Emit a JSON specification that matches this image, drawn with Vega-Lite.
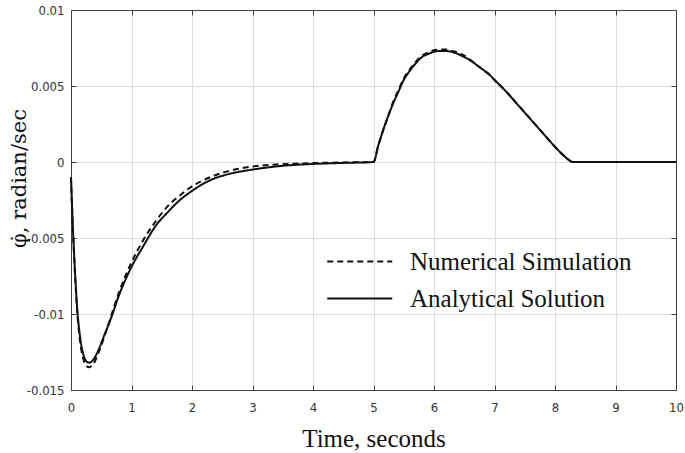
{
  "$schema": "https://vega.github.io/schema/vega-lite/v6.json",
  "width": 605,
  "height": 380,
  "autosize": {"type": "none"},
  "padding": {"left": 71, "top": 10, "right": 9, "bottom": 63},
  "background": "white",
  "config": {
    "view": {"stroke": "#404040", "strokeWidth": 1},
    "axis": {
      "labelFont": "Liberation Sans Narrow, Arial Narrow, DejaVu Sans Condensed, sans-serif",
      "labelFontSize": 13,
      "labelColor": "#333333",
      "titleFont": "Liberation Serif",
      "titleFontSize": 25,
      "titleFontWeight": "normal",
      "titleColor": "#111111",
      "domainColor": "#404040",
      "tickColor": "#404040",
      "gridColor": "#dddddd",
      "gridOpacity": 1
    }
  },
  "data": {
    "values": [
      {"t": 0, "v": -0.001, "series": "Analytical Solution"},
      {"t": 0.02, "v": -0.0032, "series": "Analytical Solution"},
      {"t": 0.04, "v": -0.0051, "series": "Analytical Solution"},
      {"t": 0.07, "v": -0.0075, "series": "Analytical Solution"},
      {"t": 0.1, "v": -0.0095, "series": "Analytical Solution"},
      {"t": 0.15, "v": -0.0115, "series": "Analytical Solution"},
      {"t": 0.2, "v": -0.0126, "series": "Analytical Solution"},
      {"t": 0.25, "v": -0.0131, "series": "Analytical Solution"},
      {"t": 0.3, "v": -0.0132, "series": "Analytical Solution"},
      {"t": 0.37, "v": -0.013, "series": "Analytical Solution"},
      {"t": 0.45, "v": -0.0124, "series": "Analytical Solution"},
      {"t": 0.55, "v": -0.0114, "series": "Analytical Solution"},
      {"t": 0.65, "v": -0.0104, "series": "Analytical Solution"},
      {"t": 0.8, "v": -0.0087, "series": "Analytical Solution"},
      {"t": 1.0, "v": -0.0069, "series": "Analytical Solution"},
      {"t": 1.2, "v": -0.0055, "series": "Analytical Solution"},
      {"t": 1.4, "v": -0.0042, "series": "Analytical Solution"},
      {"t": 1.6, "v": -0.0033, "series": "Analytical Solution"},
      {"t": 1.8, "v": -0.0025, "series": "Analytical Solution"},
      {"t": 2.0, "v": -0.0019, "series": "Analytical Solution"},
      {"t": 2.3, "v": -0.0012, "series": "Analytical Solution"},
      {"t": 2.6, "v": -0.0008, "series": "Analytical Solution"},
      {"t": 3.0, "v": -0.0005, "series": "Analytical Solution"},
      {"t": 3.5, "v": -0.00025, "series": "Analytical Solution"},
      {"t": 4.0, "v": -0.00013, "series": "Analytical Solution"},
      {"t": 4.5, "v": -0.00006, "series": "Analytical Solution"},
      {"t": 5.0, "v": 0, "series": "Analytical Solution"},
      {"t": 5.08, "v": 0.0011, "series": "Analytical Solution"},
      {"t": 5.16, "v": 0.0021, "series": "Analytical Solution"},
      {"t": 5.25, "v": 0.0031, "series": "Analytical Solution"},
      {"t": 5.33, "v": 0.0039, "series": "Analytical Solution"},
      {"t": 5.42, "v": 0.0047, "series": "Analytical Solution"},
      {"t": 5.5, "v": 0.0054, "series": "Analytical Solution"},
      {"t": 5.6, "v": 0.006, "series": "Analytical Solution"},
      {"t": 5.7, "v": 0.0065, "series": "Analytical Solution"},
      {"t": 5.8, "v": 0.0069, "series": "Analytical Solution"},
      {"t": 5.9, "v": 0.0071, "series": "Analytical Solution"},
      {"t": 6.0, "v": 0.00725, "series": "Analytical Solution"},
      {"t": 6.1, "v": 0.0073, "series": "Analytical Solution"},
      {"t": 6.2, "v": 0.0073, "series": "Analytical Solution"},
      {"t": 6.3, "v": 0.00724, "series": "Analytical Solution"},
      {"t": 6.4, "v": 0.0071, "series": "Analytical Solution"},
      {"t": 6.5, "v": 0.0069, "series": "Analytical Solution"},
      {"t": 6.6, "v": 0.0067, "series": "Analytical Solution"},
      {"t": 6.7, "v": 0.0064, "series": "Analytical Solution"},
      {"t": 6.8, "v": 0.0061, "series": "Analytical Solution"},
      {"t": 6.9, "v": 0.0058, "series": "Analytical Solution"},
      {"t": 7.0, "v": 0.0054, "series": "Analytical Solution"},
      {"t": 7.2, "v": 0.0046, "series": "Analytical Solution"},
      {"t": 7.4, "v": 0.0037, "series": "Analytical Solution"},
      {"t": 7.6, "v": 0.0028, "series": "Analytical Solution"},
      {"t": 7.8, "v": 0.0019, "series": "Analytical Solution"},
      {"t": 8.0, "v": 0.001, "series": "Analytical Solution"},
      {"t": 8.15, "v": 0.0004, "series": "Analytical Solution"},
      {"t": 8.3, "v": 0, "series": "Analytical Solution"},
      {"t": 9.0, "v": 0, "series": "Analytical Solution"},
      {"t": 10.0, "v": 0, "series": "Analytical Solution"},
      {"t": 0, "v": -0.001, "series": "Numerical Simulation"},
      {"t": 0.02, "v": -0.0033, "series": "Numerical Simulation"},
      {"t": 0.04, "v": -0.0052, "series": "Numerical Simulation"},
      {"t": 0.07, "v": -0.0077, "series": "Numerical Simulation"},
      {"t": 0.1, "v": -0.0097, "series": "Numerical Simulation"},
      {"t": 0.15, "v": -0.0118, "series": "Numerical Simulation"},
      {"t": 0.2, "v": -0.0129, "series": "Numerical Simulation"},
      {"t": 0.25, "v": -0.0134, "series": "Numerical Simulation"},
      {"t": 0.3, "v": -0.0135, "series": "Numerical Simulation"},
      {"t": 0.37, "v": -0.0133, "series": "Numerical Simulation"},
      {"t": 0.45, "v": -0.0126, "series": "Numerical Simulation"},
      {"t": 0.55, "v": -0.0115, "series": "Numerical Simulation"},
      {"t": 0.65, "v": -0.0103, "series": "Numerical Simulation"},
      {"t": 0.8, "v": -0.0085, "series": "Numerical Simulation"},
      {"t": 1.0, "v": -0.0066, "series": "Numerical Simulation"},
      {"t": 1.2, "v": -0.0051, "series": "Numerical Simulation"},
      {"t": 1.4, "v": -0.0039, "series": "Numerical Simulation"},
      {"t": 1.6, "v": -0.0029, "series": "Numerical Simulation"},
      {"t": 1.8, "v": -0.0022, "series": "Numerical Simulation"},
      {"t": 2.0, "v": -0.0016, "series": "Numerical Simulation"},
      {"t": 2.3, "v": -0.001, "series": "Numerical Simulation"},
      {"t": 2.6, "v": -0.0006, "series": "Numerical Simulation"},
      {"t": 3.0, "v": -0.0003, "series": "Numerical Simulation"},
      {"t": 3.5, "v": -0.00015, "series": "Numerical Simulation"},
      {"t": 4.0, "v": -0.00007, "series": "Numerical Simulation"},
      {"t": 4.5, "v": -0.00003, "series": "Numerical Simulation"},
      {"t": 5.0, "v": 0, "series": "Numerical Simulation"},
      {"t": 5.08, "v": 0.0011, "series": "Numerical Simulation"},
      {"t": 5.16, "v": 0.0021, "series": "Numerical Simulation"},
      {"t": 5.25, "v": 0.0031, "series": "Numerical Simulation"},
      {"t": 5.33, "v": 0.004, "series": "Numerical Simulation"},
      {"t": 5.42, "v": 0.0048, "series": "Numerical Simulation"},
      {"t": 5.5, "v": 0.0055, "series": "Numerical Simulation"},
      {"t": 5.6, "v": 0.0061, "series": "Numerical Simulation"},
      {"t": 5.7, "v": 0.0066, "series": "Numerical Simulation"},
      {"t": 5.8, "v": 0.007, "series": "Numerical Simulation"},
      {"t": 5.9, "v": 0.0072, "series": "Numerical Simulation"},
      {"t": 6.0, "v": 0.00735, "series": "Numerical Simulation"},
      {"t": 6.1, "v": 0.0074, "series": "Numerical Simulation"},
      {"t": 6.2, "v": 0.0074, "series": "Numerical Simulation"},
      {"t": 6.3, "v": 0.0073, "series": "Numerical Simulation"},
      {"t": 6.4, "v": 0.0072, "series": "Numerical Simulation"},
      {"t": 6.5, "v": 0.007, "series": "Numerical Simulation"},
      {"t": 6.6, "v": 0.0067, "series": "Numerical Simulation"},
      {"t": 6.7, "v": 0.0064, "series": "Numerical Simulation"},
      {"t": 6.8, "v": 0.0061, "series": "Numerical Simulation"},
      {"t": 6.9, "v": 0.0058, "series": "Numerical Simulation"},
      {"t": 7.0, "v": 0.0054, "series": "Numerical Simulation"},
      {"t": 7.2, "v": 0.0046, "series": "Numerical Simulation"},
      {"t": 7.4, "v": 0.0037, "series": "Numerical Simulation"},
      {"t": 7.6, "v": 0.0028, "series": "Numerical Simulation"},
      {"t": 7.8, "v": 0.0019, "series": "Numerical Simulation"},
      {"t": 8.0, "v": 0.001, "series": "Numerical Simulation"},
      {"t": 8.15, "v": 0.0004, "series": "Numerical Simulation"},
      {"t": 8.3, "v": 0, "series": "Numerical Simulation"},
      {"t": 9.0, "v": 0, "series": "Numerical Simulation"},
      {"t": 10.0, "v": 0, "series": "Numerical Simulation"}
    ]
  },
  "layer": [
    {
      "mark": {"type": "line", "interpolate": "monotone", "strokeWidth": 2},
      "encoding": {
        "x": {
          "field": "t", "type": "quantitative",
          "scale": {"domain": [0, 10], "nice": false, "zero": false},
          "axis": {
            "title": "Time, seconds",
            "values": [0, 1, 2, 3, 4, 5, 6, 7, 8, 9, 10],
            "tickSize": -5,
            "labelPadding": 16,
            "titleY": 48,
            "titleBaseline": "middle",
            "labelFlush": false
          }
        },
        "y": {
          "field": "v", "type": "quantitative",
          "scale": {"domain": [-0.015, 0.01], "nice": false, "zero": false},
          "axis": {
            "title": "φ̇, radian/sec",
            "titleFont": "DejaVu Serif",
            "titleFontSize": 21,
            "values": [-0.015, -0.01, -0.005, 0, 0.005, 0.01],
            "labelExpr": "'' + datum.value",
            "tickSize": -5,
            "labelPadding": 12,
            "titleX": -52,
            "titleY": 168,
            "titleAngle": -90,
            "titleAlign": "center",
            "titleBaseline": "middle",
            "labelFlush": false
          }
        },
        "color": {
          "field": "series", "type": "nominal",
          "scale": {"domain": ["Numerical Simulation", "Analytical Solution"], "range": ["#111111", "#111111"]},
          "legend": {
            "title": null,
            "orient": "none",
            "legendX": 255,
            "legendY": 234,
            "direction": "vertical",
            "symbolType": "M-1,0H3",
            "symbolSize": 1056,
            "symbolStrokeWidth": 2,
            "labelFont": "Liberation Serif",
            "labelFontSize": 25,
            "labelColor": "#111111",
            "labelOffset": 49,
            "rowPadding": 6,
            "labelLimit": 400
          }
        },
        "strokeDash": {
          "field": "series", "type": "nominal",
          "scale": {"domain": ["Numerical Simulation", "Analytical Solution"], "range": [[6, 4], [1, 0]]},
          "legend": {
            "title": null,
            "orient": "none",
            "legendX": 255,
            "legendY": 234,
            "direction": "vertical",
            "symbolType": "M-1,0H3",
            "symbolSize": 1056,
            "symbolStrokeWidth": 2,
            "labelFont": "Liberation Serif",
            "labelFontSize": 25,
            "labelColor": "#111111",
            "labelOffset": 49,
            "rowPadding": 6,
            "labelLimit": 400
          }
        }
      }
    },
    {
      "mark": {"type": "point", "opacity": 0},
      "encoding": {
        "x": {
          "field": "t", "type": "quantitative",
          "scale": {"domain": [0, 10], "nice": false, "zero": false},
          "axis": {"orient": "top", "title": null, "labels": false, "grid": false, "tickSize": -5, "values": [0, 1, 2, 3, 4, 5, 6, 7, 8, 9, 10]}
        },
        "y": {
          "field": "v", "type": "quantitative",
          "scale": {"domain": [-0.015, 0.01], "nice": false, "zero": false},
          "axis": {"orient": "right", "title": null, "labels": false, "grid": false, "tickSize": -5, "values": [-0.015, -0.01, -0.005, 0, 0.005, 0.01]}
        }
      }
    }
  ],
  "resolve": {"scale": {"x": "independent", "y": "independent"}}
}
